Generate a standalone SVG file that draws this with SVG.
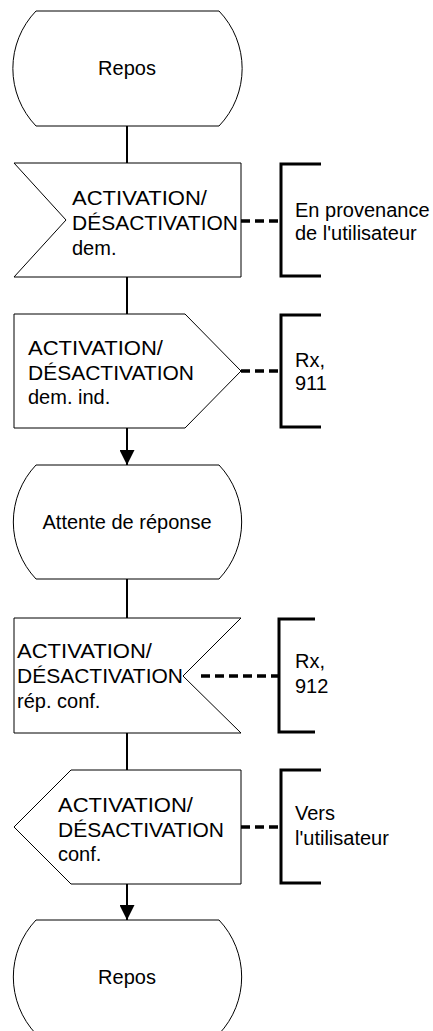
<svg xmlns="http://www.w3.org/2000/svg" width="433" height="1031" viewBox="0 0 433 1031">
<style>
.sh{fill:#fff;stroke:#000;stroke-width:1}
.t{font-family:"Liberation Sans",Arial,sans-serif;font-size:20px;fill:#000}
.c{text-anchor:middle}
.ln{stroke:#000;stroke-width:2;fill:none}
.dash{stroke:#000;stroke-width:3.5;stroke-dasharray:9,5;fill:none}
.br{stroke:#000;stroke-width:3;fill:none}
</style>
<defs>
<marker id="arr" markerWidth="15" markerHeight="15" refX="15" refY="7.5" orient="auto" markerUnits="userSpaceOnUse" viewBox="0 0 15 15">
<path d="M0,0 L15,7.5 L0,15 Z" fill="#000"/>
</marker>
</defs>
<g id="connectors">
<line class="ln" x1="127" y1="126" x2="127" y2="163"/>
<line class="ln" x1="127" y1="277" x2="127" y2="314"/>
<line class="ln" x1="127" y1="428" x2="127" y2="465" marker-end="url(#arr)"/>
<line class="ln" x1="127" y1="579" x2="127" y2="618"/>
<line class="ln" x1="127" y1="733" x2="127" y2="770"/>
<line class="ln" x1="127" y1="884" x2="127" y2="920" marker-end="url(#arr)"/>
<line class="dash" x1="241" y1="221" x2="280" y2="221"/>
<line class="dash" x1="241" y1="371" x2="280" y2="371"/>
<line class="dash" x1="201" y1="676" x2="278" y2="676"/>
<line class="dash" x1="241" y1="827" x2="280" y2="827"/>
</g>
<g id="n1">
<path class="sh" d="M36,11 H219 A83,83 0 0 1 219,126 H36 A83,83 0 0 1 36,11 Z"/>
<text class="t c" x="127" y="75">Repos</text>
</g>
<g id="n2">
<polygon class="sh" points="14,163 241,163 241,277 14,277 66,220"/>
<text class="t" x="72" y="205" textLength="135" lengthAdjust="spacingAndGlyphs">ACTIVATION/</text>
<text class="t" x="72" y="230" textLength="166" lengthAdjust="spacingAndGlyphs">DÉSACTIVATION</text>
<text class="t" x="72" y="255">dem.</text>
</g>
<g id="b2">
<path class="br" d="M321,164 H281 V276 H321"/>
<text class="t" x="295" y="217">En provenance</text>
<text class="t" x="295" y="240">de l'utilisateur</text>
</g>
<g id="n3">
<polygon class="sh" points="14,314 185,314 241,371 185,428 14,428"/>
<text class="t" x="28" y="355" textLength="135" lengthAdjust="spacingAndGlyphs">ACTIVATION/</text>
<text class="t" x="28" y="380" textLength="166" lengthAdjust="spacingAndGlyphs">DÉSACTIVATION</text>
<text class="t" x="28" y="404">dem. ind.</text>
</g>
<g id="b3">
<path class="br" d="M321,315 H281 V427 H321"/>
<text class="t" x="295" y="367">Rx,</text>
<text class="t" x="295" y="390">911</text>
</g>
<g id="n4">
<path class="sh" d="M36,465 H219 A83,83 0 0 1 219,579 H36 A83,83 0 0 1 36,465 Z"/>
<text class="t c" x="127" y="529">Attente de réponse</text>
</g>
<g id="n5">
<polygon class="sh" points="14,618 241,618 183,676 241,733 14,733"/>
<text class="t" x="17" y="658" textLength="135" lengthAdjust="spacingAndGlyphs">ACTIVATION/</text>
<text class="t" x="17" y="683" textLength="166" lengthAdjust="spacingAndGlyphs">DÉSACTIVATION</text>
<text class="t" x="17" y="708">rép. conf.</text>
</g>
<g id="b5">
<path class="br" d="M315,619 H279 V732 H315"/>
<text class="t" x="295" y="668">Rx,</text>
<text class="t" x="295" y="693">912</text>
</g>
<g id="n6">
<polygon class="sh" points="71,770 241,770 241,884 71,884 14,827"/>
<text class="t" x="58" y="812" textLength="135" lengthAdjust="spacingAndGlyphs">ACTIVATION/</text>
<text class="t" x="58" y="837" textLength="166" lengthAdjust="spacingAndGlyphs">DÉSACTIVATION</text>
<text class="t" x="58" y="861">conf.</text>
</g>
<g id="b6">
<path class="br" d="M321,770 H281 V883 H321"/>
<text class="t" x="295" y="820">Vers</text>
<text class="t" x="295" y="845">l'utilisateur</text>
</g>
<g id="n7">
<path class="sh" d="M36,920 H219 A83,83 0 0 1 219,1034 H36 A83,83 0 0 1 36,920 Z"/>
<text class="t c" x="127" y="984">Repos</text>
</g>
</svg>
